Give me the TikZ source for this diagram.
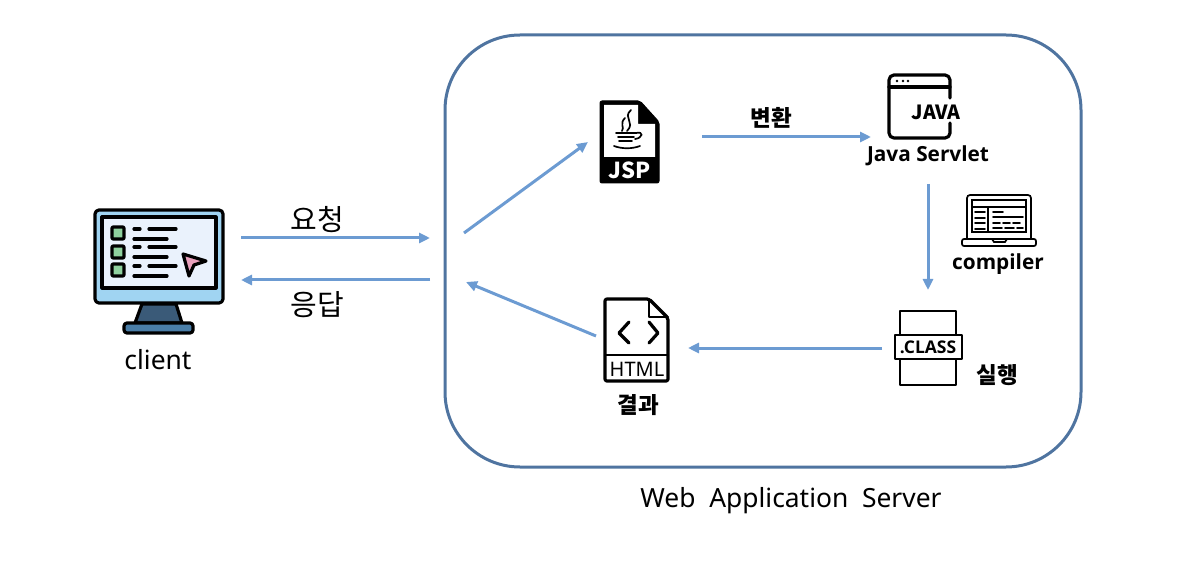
\documentclass[tikz,border=0pt]{standalone}
\usepackage{fontspec}
\setmainfont{Noto Sans}
\newfontfamily\krfont{Noto Sans CJK KR}
\newfontfamily\boldfont{Open Sans}
\usetikzlibrary{arrows.meta}
\definecolor{flowblue}{HTML}{6C9BD2}
\definecolor{wasblue}{HTML}{4F74A0}
\definecolor{screenblue}{HTML}{A0D4F2}
\definecolor{screenpale}{HTML}{EAF2FC}
\definecolor{standblue}{HTML}{3A5A78}
\definecolor{baseblue}{HTML}{4A7EA8}
\definecolor{boxgreen}{HTML}{8FD19E}
\definecolor{cursorpink}{HTML}{E8A0BC}
\tikzset{
    flow/.style={draw=flowblue, line width=3pt, -{Triangle[length=11pt,width=10pt]}},
    icon/.style={draw=black, line width=3.2pt, line join=round, line cap=round},
    thinicon/.style={draw=black, line width=1.7pt, line cap=round},
    bigtext/.style={font=\fontsize{26.4}{30}\selectfont, inner sep=0pt},
    boldtext/.style={font=\boldfont\fontsize{20.8}{24}\selectfont\bfseries, inner sep=0pt},
    krbig/.style={font=\krfont\fontsize{29}{32}\selectfont, inner sep=0pt},
    krbold/.style={font=\krfont\fontsize{22.5}{26}\selectfont\bfseries, inner sep=0pt}
}
\begin{document}
\begin{tikzpicture}[x=1pt, y=-1pt]
    \useasboundingbox (0,0) rectangle (1192,572);
    % Server box
    \node[draw=wasblue, line width=3pt, rounded corners=75pt, minimum width=636pt, minimum height=432pt, inner sep=0pt] (was) at (763,251) {};
    \node[bigtext] (wasname) at (791,501) {Web\ \ Application\ \ Server};
    % Client icon
    \draw[icon, fill=screenblue, rounded corners=4pt] (95,210) rectangle (223,303);
    \draw[icon, fill=screenpale] (102,217) rectangle (216,288);
    \draw[icon, fill=standblue] (142,304) -- (176,304) -- (182,323) -- (135,323) -- cycle;
    \draw[icon, fill=baseblue, rounded corners=3pt] (124,323) rectangle (193,333);
    \foreach \ytop in {227,246,264} {
        \draw[icon, fill=boxgreen, rounded corners=1pt] (112,\ytop) rectangle (124,\ytop+12);
    }
    \foreach \yline in {229,247,266} {
        \draw[icon] (134,\yline) -- (140,\yline);
        \draw[icon] (149,\yline) -- (176,\yline);
        \draw[icon] (134,\yline+10) -- (167,\yline+10);
    }
    \draw[icon, fill=cursorpink] (183,254) -- (206,261) -- (194,265) -- (189,276) -- cycle;
    \node[bigtext] (client) at (158,360) {client};
    % JSP icon
    \draw[fill=black, draw=black, line width=1pt, line join=round, rounded corners=2pt] (600,101) -- (640,101) -- (659,122) -- (659,183) -- (600,183) -- cycle;
    \fill[white] (604,105) -- (638,105) -- (638,124) -- (655,124) -- (655,157) -- (604,157) -- cycle;
    \draw[thinicon] (631,110) .. controls (622,118) and (636,122) .. (627,131);
    \draw[thinicon] (625,118) .. controls (619,124) and (625,127) .. (622,131);
    \draw[thinicon] (616,133) -- (636,133);
    \draw[thinicon] (618,137) -- (634,137);
    \draw[thinicon] (619,141) -- (632,141);
    \draw[thinicon] (614,146) .. controls (622,149) and (632,149) .. (640,146);
    \draw[thinicon] (636,133) .. controls (644,131) and (643,138) .. (635,139);
    \node[boldtext, text=white, font=\krfont\fontsize{22}{26}\selectfont\bfseries] (jsp) at (630,170) {JSP};
    % Java icon
    \draw[icon, rounded corners=5pt] (950,98) -- (950,75) -- (889,75) -- (889,138) -- (950,138) -- (950,123);
    \draw[icon] (889,87) -- (950,87);
    \foreach \xdot in {897,903,908} {
        \fill (\xdot,81) circle (1.4pt);
    }
    \node[boldtext, font=\krfont\fontsize{19.5}{24}\selectfont\bfseries] (java) at (936,112) {JAVA};
    \node[boldtext] (servlet) at (928,156) {Java Servlet};
    % Compiler icon
    \draw[thinicon, rounded corners=3pt] (967,238) -- (967,195) -- (1031,195) -- (1031,238);
    \draw[thinicon] (972,232) rectangle (1026,200);
    \draw[thinicon] (972,207) -- (1026,207);
    \draw[thinicon] (988,207) -- (988,232);
    \foreach \yside in {212,218,223,229} {
        \draw[thinicon] (975,\yside) -- (985,\yside);
    }
    \draw[thinicon] (993,212) -- (1003,212);
    \draw[thinicon] (993,217) -- (1023,217);
    \draw[thinicon, dash pattern=on 7pt off 3pt] (993,223) -- (1023,223);
    \draw[thinicon, dash pattern=on 9pt off 3pt] (993,228) -- (1023,228);
    \draw[thinicon, rounded corners=2pt] (962,239) rectangle (1036,246);
    \draw[thinicon] (992,239) -- (994,242) -- (1005,242) -- (1007,239);
    \node[boldtext] (compiler) at (998,264) {compiler};
    % Class icon
    \draw[icon, line width=2.4pt] (900,311) rectangle (956,385);
    \draw[icon, line width=2.4pt, fill=white] (895,335) rectangle (962,359);
    \node[boldtext, font=\boldfont\fontsize{17.5}{22}\selectfont\bfseries] (class) at (928,347) {.CLASS};
    \node[krbold] (run) at (997,375) {실행};
    % Html icon
    \draw[icon, rounded corners=2pt] (605,299) -- (649,299) -- (668,318) -- (668,381) -- (605,381) -- cycle;
    \draw[icon, line width=2.2pt] (649,299) -- (649,317) -- (668,317);
    \draw[icon, line width=2.4pt] (605,355) -- (668,355);
    \draw[icon] (629,322) -- (619,333) -- (629,343);
    \draw[icon] (649,322) -- (658,333) -- (649,343);
    \node[boldtext, font=\fontsize{20}{22}\selectfont] (html) at (637,369) {HTML};
    \node[krbold] (result) at (638,405) {결과};
    % Labels
    \node[krbig] (request) at (317,220) {요청};
    \node[krbig] (response) at (317,305) {응답};
    \node[krbold] (convert) at (771,118) {변환};
    % Edge ends
    \coordinate (reqstart) at (241,238);
    \coordinate (reqend) at (430,238);
    \coordinate (resstart) at (430,280);
    \coordinate (resend) at (241,280);
    \coordinate (jspstart) at (464,233);
    \coordinate (jspend) at (588,142);
    \coordinate (convstart) at (702,137);
    \coordinate (convend) at (871,137);
    \coordinate (compstart) at (928,184);
    \coordinate (compend) at (928,290);
    \coordinate (runstart) at (882,348);
    \coordinate (runend) at (688,348);
    \coordinate (htmlstart) at (596,336);
    \coordinate (htmlend) at (466,282);
    % Edges
    \draw[flow] (reqstart) -- (reqend);
    \draw[flow] (resstart) -- (resend);
    \draw[flow] (jspstart) -- (jspend);
    \draw[flow] (convstart) -- (convend);
    \draw[flow] (compstart) -- (compend);
    \draw[flow] (runstart) -- (runend);
    \draw[flow] (htmlstart) -- (htmlend);
\end{tikzpicture}
\end{document}
